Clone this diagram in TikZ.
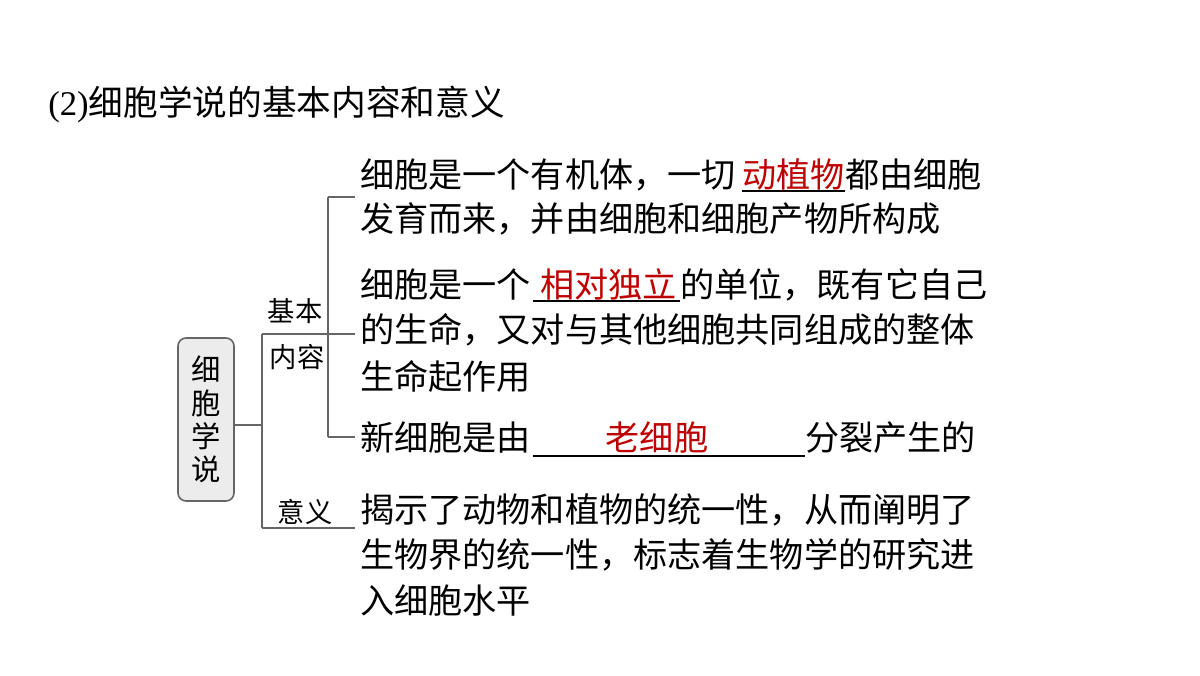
\documentclass[tikz,border=0pt]{standalone}
\usepackage{fontspec}
\setmainfont{Liberation Serif}
\newfontfamily\cjk{Noto Sans CJK SC}
\begin{document}
\begin{tikzpicture}[x=0.75pt,y=-0.75pt,
  txt/.style={anchor=base west,inner sep=0pt,font=\cjk\fontsize{25.6}{25}\selectfont},
  red/.style={txt,text=red!75!black},
  lab/.style={inner sep=0pt,font=\cjk\fontsize{20.5}{20}\selectfont},
  ln/.style={draw=gray!80!black,line width=1.2pt}]
\useasboundingbox (0,0) rectangle (1200,675);
\node[anchor=west,inner sep=0pt,font=\fontsize{26}{26}\selectfont] (title) at (48,104) {(2){\cjk 细胞学说的基本内容和意义}};
\node[draw=gray!80!black,fill=gray!15,rounded corners=6pt,line width=1.2pt,minimum width=56*0.75pt,minimum height=163*0.75pt,inner sep=0pt,align=center,font=\cjk\fontsize{22}{25}\selectfont] (root) at (206,419.5) {细\\胞\\学\\说};
\coordinate (j1) at (262,425);
\coordinate (jt) at (262,334);
\coordinate (jb) at (262,528);
\coordinate (k1) at (328,334);
\coordinate (kt) at (328,197);
\coordinate (kb) at (328,437);
\coordinate (e1) at (355,197);
\coordinate (e2) at (355,334);
\coordinate (e3) at (355,437);
\coordinate (e4) at (355,528);
\draw[ln] (root.east |- j1) -- (j1);
\draw[ln] (jt) -- (jb);
\draw[ln] (jt) -- (e2);
\draw[ln] (jb) -- (e4);
\draw[ln] (kt) -- (kb);
\draw[ln] (kt) -- (e1);
\draw[ln] (kb) -- (e3);
\node[lab] (l1) at (295,311) {基本};
\node[lab] (l2) at (297,357) {内容};
\node[lab] (l3) at (305,512) {意义};
% line 1
\node[txt] (a1) at (360,187) {细胞是一个有机体，一切};
\node[red] (a1r) at (742,187) {动植物};
\node[txt] (a1b) at (845,187) {都由细胞};
\draw[line width=0.8pt] (742,191) -- (845,191);
\node[txt] (a2) at (360,231) {发育而来，并由细胞和细胞产物所构成};
% line 2
\node[txt] (b1) at (360,297) {细胞是一个};
\node[red] (b1r) at (540,297) {相对独立};
\node[txt] (b1b) at (680,297) {的单位，既有它自己};
\draw[line width=0.8pt] (533,301) -- (680,301);
\node[txt] (b2) at (360,342) {的生命，又对与其他细胞共同组成的整体};
\node[txt] (b3) at (360,389) {生命起作用};
% line 3
\node[txt] (c1) at (360,450) {新细胞是由};
\node[red,anchor=base] (c1r) at (657,450) {老细胞};
\node[txt] (c1b) at (805,450) {分裂产生的};
\draw[line width=0.8pt] (533,456) -- (805,456);
% meaning
\node[txt] (d1) at (360,522) {揭示了动物和植物的统一性，从而阐明了};
\node[txt] (d2) at (360,567) {生物界的统一性，标志着生物学的研究进};
\node[txt] (d3) at (360,613) {入细胞水平};
\end{tikzpicture}
\end{document}
